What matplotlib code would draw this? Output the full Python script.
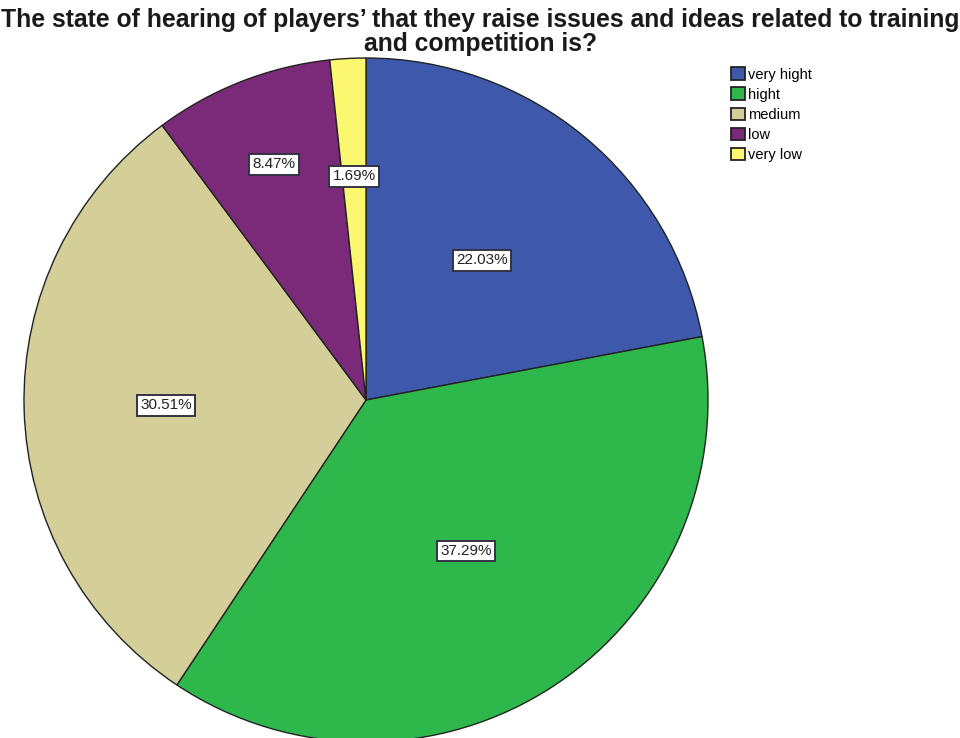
import numpy as np
import matplotlib.pyplot as plt

categories = ['very hight', 'hight', 'medium', 'low', 'very low']
percents = [22.03, 37.29, 30.51, 8.47, 1.69]
colors = ['#3E58AC', '#2EB84B', '#D4CE98', '#7B2A7A', '#FBF870']
label_r = [0.53, 0.53, 0.585, 0.74, 0.655]

title = ("The state of hearing of players\u2019 that they raise issues and ideas related to training\n"
         "and competition is?")

plt.rcParams['font.family'] = ['Liberation Sans', 'DejaVu Sans']

fig = plt.figure(figsize=(9.6, 7.38), dpi=100)
ax = fig.add_axes([0, 0, 1, 1])
ax.set_xlim(0, 960)
ax.set_ylim(0, 738)
ax.set_aspect('equal')
ax.axis('off')

cx, cy, R = 366, 738 - 400, 342
wedges, _ = ax.pie(percents, colors=colors, startangle=90, counterclock=False,
                   center=(cx, cy), radius=R,
                   wedgeprops=dict(edgecolor='#222222', linewidth=1.0))
ax.set_xlim(0, 960)
ax.set_ylim(0, 738)

# labels inside the slices
for w, p, rf in zip(wedges, percents, label_r):
    ang = np.deg2rad((w.theta1 + w.theta2) / 2)
    x = cx + rf * R * np.cos(ang)
    y = cy + rf * R * np.sin(ang)
    ax.text(x, y, f'{p:.2f}%', ha='center', va='center', fontsize=11,
            color='#222222',
            bbox=dict(boxstyle='square,pad=0.22', fc='white', ec='#333344', lw=1.4))

fig.text(0.5, 1 - 8 / 738, title, ha='center', va='top', fontsize=17.8,
         fontweight='bold', color='#1a1a1a', linespacing=1.0)

# legend squares are a bit larger than the default handles
leg = ax.legend(wedges, categories, loc='upper left',
                bbox_to_anchor=(724 / 960, 1 - 60 / 738), frameon=False,
                fontsize=10.5, handlelength=0.95, handleheight=0.95,
                handletextpad=0.2, labelspacing=0.4, borderpad=0)
for h in leg.legend_handles:
    h.set_linewidth(1.3)

fig.savefig('out.png', dpi=100, facecolor='white')
